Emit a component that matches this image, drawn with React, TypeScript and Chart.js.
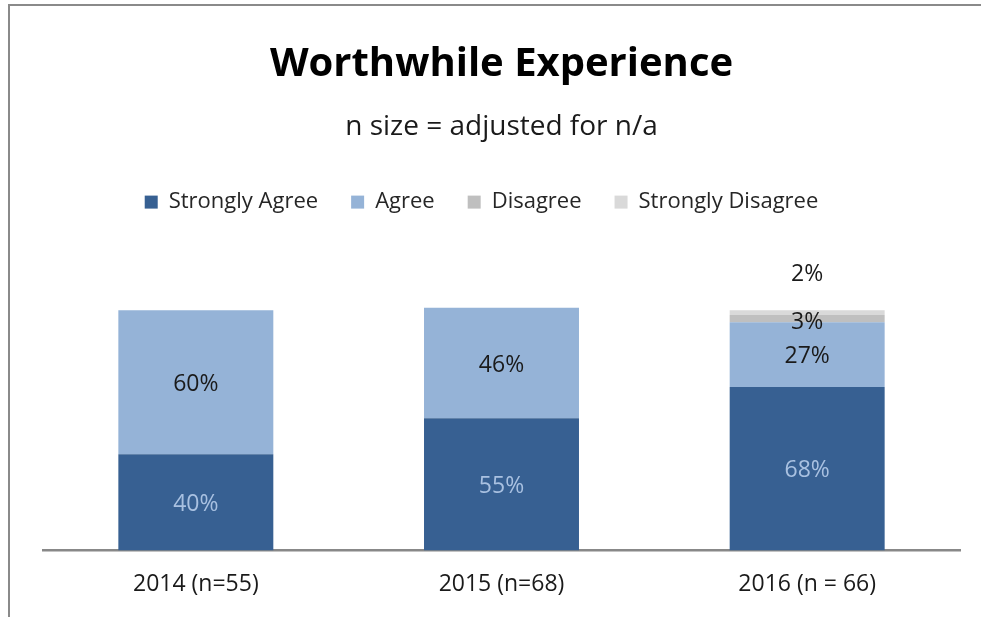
import React, { useEffect, useRef } from "react";
import { Chart, registerables } from "chart.js";

Chart.register(...registerables);

const titleText = "Worthwhile Experience";
const subtitleText = "n size = adjusted for n/a";
const categories = ["2014 (n=55)", "2015 (n=68)", "2016 (n = 66)"];
const seriesNames = ["Strongly Agree", "Agree", "Disagree", "Strongly Disagree"];
const stronglyAgree = [40, 55, 68];
const agree = [60, 46, 27];
const disagree = [0, 0, 3];
const stronglyDisagree = [0, 0, 2];
const seriesColors = ["#376092", "#95b3d7", "#bfbfbf", "#d9d9d9"];

const FONT = "'Open Sans', sans-serif";

const labelPlugin = {
  id: "segLabels",
  afterDatasetsDraw(chart: any) {
    const ctx = chart.ctx;
    ctx.save();
    ctx.font = `23px ${FONT}`;
    ctx.textAlign = "center";
    ctx.textBaseline = "middle";
    chart.data.datasets.forEach((ds: any, di: number) => {
      const meta = chart.getDatasetMeta(di);
      meta.data.forEach((el: any, i: number) => {
        const v = ds.data[i];
        if (!v) return;
        const { x, y, base } = el.getProps(["x", "y", "base"], true);
        let ty = (y + base) / 2 + 2;
        if (di === 3) ty = y - 36;
        else if (di === 2) ty = (y + base) / 2 + 4;
        ctx.fillStyle = di === 0 ? "#a9c1e1" : "#1a1a1a";
        ctx.fillText(v + "%", x, ty);
      });
    });
    ctx.restore();
  },
};

export default function App() {
  const ref = useRef<HTMLCanvasElement | null>(null);

  useEffect(() => {
    if (!ref.current) return;
    const values = [stronglyAgree, agree, disagree, stronglyDisagree];
    const chart = new Chart(ref.current, {
      type: "bar",
      data: {
        labels: categories,
        datasets: seriesNames.map((name, i) => ({
          label: name,
          data: values[i],
          backgroundColor: seriesColors[i],
          borderWidth: 0,
          categoryPercentage: 1,
          barPercentage: 0.507,
        })),
      },
      options: {
        responsive: false,
        animation: false,
        devicePixelRatio: 1,
        layout: { padding: { top: 40.5, left: 43, right: 21, bottom: -1 } },
        plugins: {
          title: {
            display: true,
            text: titleText,
            color: "#000",
            font: { family: FONT, size: 40, weight: "bold", lineHeight: 1.2 },
            padding: { top: 0, bottom: 22 },
          },
          subtitle: {
            display: true,
            text: subtitleText,
            color: "#1a1a1a",
            font: { family: FONT, size: 28, lineHeight: 1.2 },
            padding: { top: 0, bottom: 14 },
          },
          legend: {
            display: true,
            position: "top",
            labels: {
              boxWidth: 13,
              boxHeight: 13,
              padding: 33,
              color: "#262626",
              font: { family: FONT, size: 22 },
              generateLabels(chart: any) {
                const items = Chart.defaults.plugins.legend.labels.generateLabels(chart);
                // trailing spacing shifts the centred legend row slightly left, as in the source
                if (items.length) items[items.length - 1].text += "       ";
                return items;
              },
            },
          },
          tooltip: { enabled: false },
        },
        scales: {
          x: {
            stacked: true,
            grid: { display: false, drawTicks: false },
            border: { display: true, color: "#888888", width: 2.5 },
            ticks: { color: "#1a1a1a", font: { family: FONT, size: 23 }, padding: 20 },
          },
          y: {
            stacked: true,
            display: false,
            min: 0,
            max: 136.3,
          },
        },
      },
      plugins: [labelPlugin],
    });
    return () => chart.destroy();
  }, []);

  return (
    <div
      style={{
        position: "absolute",
        left: 0,
        top: 0,
        width: 981,
        height: 617,
        overflow: "hidden",
        background: "#fff",
      }}
    >
      <div
        style={{
          position: "absolute",
          left: 8,
          top: 4,
          width: 1100,
          height: 800,
          border: "2.5px solid #8a8a8a",
          boxSizing: "border-box",
        }}
      />
      <canvas ref={ref} width={981} height={617} style={{ position: "absolute", left: 0, top: 0, width: 981, height: 617 }} />
    </div>
  );
}
